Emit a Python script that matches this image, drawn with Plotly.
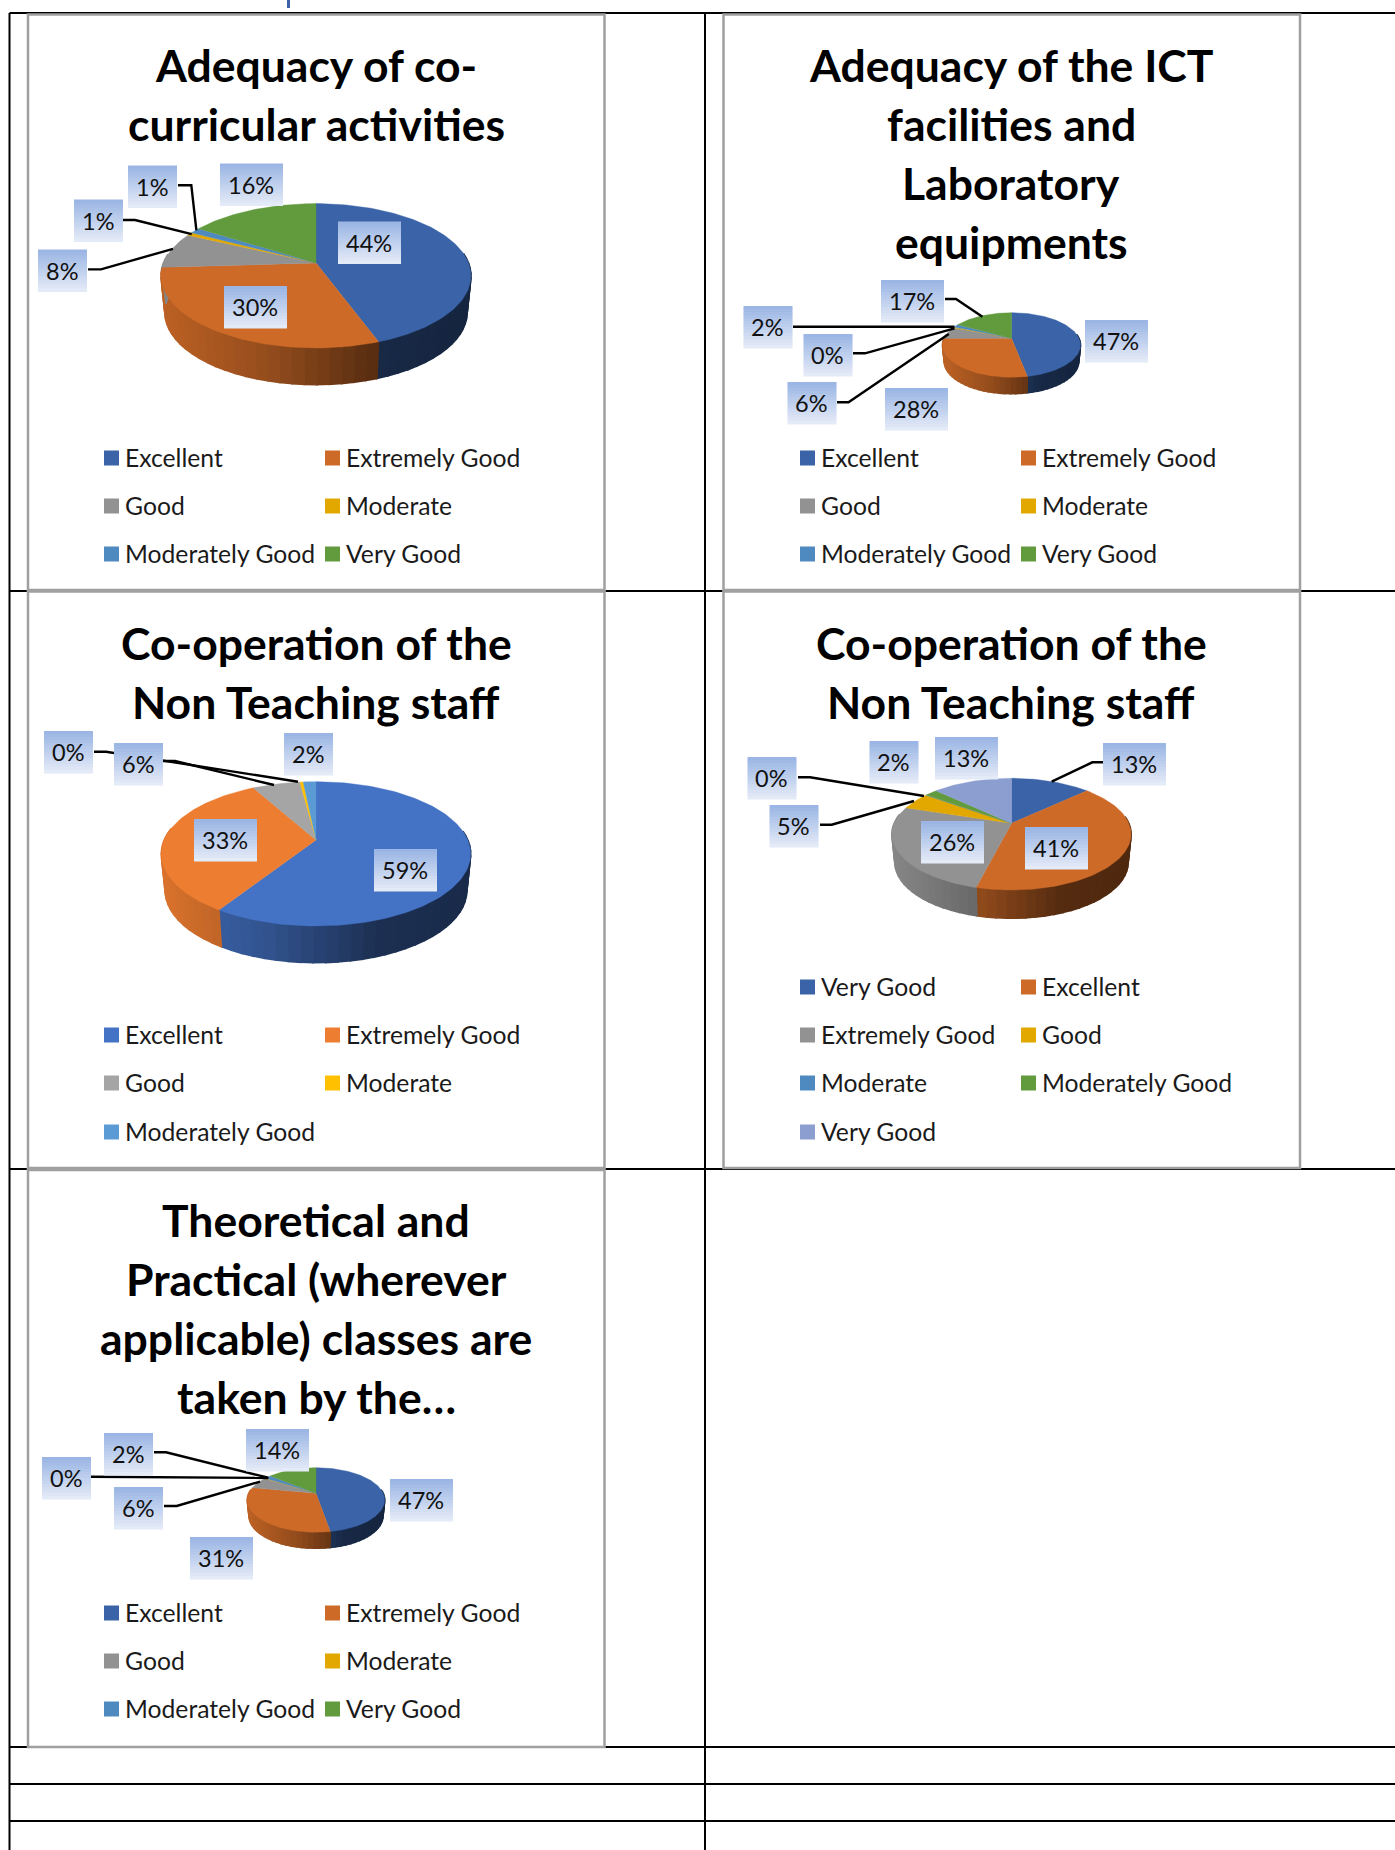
import numpy as np
import plotly.graph_objects as go

# ---------- data ----------
CATS_STD = ["Excellent", "Extremely Good", "Good", "Moderate", "Moderately Good", "Very Good"]
CATS_3 = ["Excellent", "Extremely Good", "Good", "Moderate", "Moderately Good"]
CATS_4 = ["Very Good", "Excellent", "Extremely Good", "Good", "Moderate", "Moderately Good", "Very Good"]

VALUES_1 = [44.45, 29.6, 8, 0.7, 1.3, 15.95]
VALUES_2 = [47, 28, 6, 0.4, 1.6, 17]
VALUES_3 = [59, 33, 6, 0.4, 1.6]
VALUES_4 = [13, 41, 26, 5, 0.1, 2, 13]
VALUES_5 = [47.3, 30.7, 6, 0.2, 1.8, 14]

TITLE_1 = ["Adequacy of co-", "curricular activities"]
TITLE_2 = ["Adequacy of the ICT", "facilities and", "Laboratory", "equipments"]
TITLE_3 = ["Co-operation of the", "Non Teaching staff"]
TITLE_4 = ["Co-operation of the", "Non Teaching staff"]
TITLE_5 = ["Theoretical and", "Practical (wherever", "applicable) classes are", "taken by the…"]

# ---------- styles ----------
PAL_A = ["#3a63a8", "#cd6a28", "#929292", "#e2a800", "#4e8ac0", "#629a3e"]
PAL_B = ["#4472c4", "#ed7d31", "#a5a5a5", "#ffc000", "#5b9bd5"]
PAL_C = ["#3a63a8", "#cd6a28", "#929292", "#e2a800", "#4e8ac0", "#629a3e", "#8c9dcf"]
FONT = "Lato"
TITLE_SIZE = 44.5
LEGEND_SIZE = 24.7
LABEL_SIZE = 23.5

# ---------- layout of each chart (pixels on the page) ----------
CHARTS = [
    dict(values=VALUES_1, cats=CATS_STD, pal=PAL_A, title=TITLE_1, tc=316, ty=[64, 123],
         box=(28, 14.5, 604.5, 590), cx=316, ay=263, top=203.6, bot=348, rx=155, depth=36.6,
         lx=(104, 325), ly=[457, 505, 553],
         labels=[(369.5, 242.5), (255.5, 307), (62.5, 270.5), (98.5, 220.5), (152.5, 186.5), (251.5, 184.5)],
         leaders=[[(88, 269.4), (101, 269.4), (173, 248.8)],
                  [(123, 220), (135, 220), (191.7, 234.2)],
                  [(178, 185.2), (191.3, 185.2), (196.4, 230.4)]]),
    dict(values=VALUES_2, cats=CATS_STD, pal=PAL_A, title=TITLE_2, tc=1011, ty=[64, 123, 182, 241],
         box=(723.5, 14.5, 1300, 590), cx=1011.5, ay=338.3, top=312.7, bot=377.3, rx=69, depth=16.4,
         lx=(800, 1021), ly=[457, 505, 553],
         labels=[(1116.5, 341), (916.5, 409), (812, 403), (828, 355), (768, 327), (912.5, 301)],
         leaders=[[(945, 299), (956, 299), (982.4, 316.7)],
                  [(793, 326.7), (954.5, 326.7)],
                  [(853, 353.3), (865, 353.3), (954.5, 328.3)],
                  [(837, 402.3), (848.5, 402.3), (948.8, 334)]]),
    dict(values=VALUES_3, cats=CATS_3, pal=PAL_B, title=TITLE_3, tc=316, ty=[642, 701],
         box=(28, 591.5, 604.5, 1168), cx=316, ay=840, top=781.7, bot=926, rx=154.7, depth=36.7,
         lx=(104, 325), ly=[1034, 1082, 1131],
         labels=[(405.5, 870), (225.5, 840), (138.5, 764), (68.5, 752), (308.5, 754)],
         leaders=[[(94, 751.7), (106, 751.7), (298, 781.7)],
                  [(163, 761), (175, 761), (274, 785)]]),
    dict(values=VALUES_4, cats=CATS_4, pal=PAL_C, title=TITLE_4, tc=1011, ty=[642, 701],
         box=(723.5, 591.5, 1300, 1168), cx=1011.5, ay=823.3, top=778.3, bot=890, rx=119.6, depth=28.3,
         lx=(800, 1021), ly=[986, 1034, 1082, 1131],
         labels=[(1134.5, 764), (1056.5, 848), (952.5, 842), (794, 826), (772, 778), (894, 762), (966.5, 758)],
         leaders=[[(1103, 762.3), (1092.3, 762.3), (1051.7, 781.7)],
                  [(798, 777.3), (810, 777.3), (924, 796)],
                  [(820, 824.7), (831.7, 824.7), (914, 801)]]),
    dict(values=VALUES_5, cats=CATS_STD, pal=PAL_A, title=TITLE_5, tc=316, ty=[1219, 1278, 1337, 1396],
         box=(28, 1170, 604.5, 1747), cx=316, ay=1493.3, top=1467.7, bot=1532.3, rx=68.7, depth=16,
         lx=(104, 325), ly=[1612, 1660, 1708],
         labels=[(421.5, 1500), (221.5, 1558), (138.5, 1508), (66.5, 1478), (128.5, 1454), (277.5, 1450)],
         leaders=[[(154, 1452.3), (166, 1452.3), (268.3, 1477.7)],
                  [(91, 1476.7), (268.3, 1478)],
                  [(164, 1506), (176.7, 1506), (260, 1481.7)]]),
]
H_RULES = [13, 591, 1169, 1747, 1784, 1821]
V_RULES = [9.5, 705]
SHADE_T = [0.0, 0.35, 0.7, 1.0]
SHADE_F = [0.92, 0.72, 0.42, 0.38]

fig = go.Figure()
shapes, annots = [], []


def shade(hexcol, f):
    r, g, b = int(hexcol[1:3], 16), int(hexcol[3:5], 16), int(hexcol[5:7], 16)
    return f"rgb({int(r*f)},{int(g*f)},{int(b*f)})"


def poly(xs, ys, color, lw=0.6):
    fig.add_trace(go.Scatter(x=xs, y=ys, mode="lines", fill="toself", fillcolor=color,
                             line=dict(color=color, width=lw), hoverinfo="skip", showlegend=False))


def draw_pie(c):
    vals = np.array(c["values"], float)
    fr = vals / vals.sum()
    edges = np.concatenate([[0], np.cumsum(fr)]) * 2 * np.pi
    a1, a2 = c["ay"] - c["top"], c["bot"] - c["ay"]
    k = (a2 - a1) / (a2 + a1)
    B = a1 * (1 + k)
    A = c["rx"] * np.sqrt(1 - k * k)

    def proj(th):
        u, v = np.sin(th), np.cos(th)
        w = 1 + k * v
        return c["cx"] + A * u / w, c["ay"] - B * v / w

    # side walls first, left-to-right overlap hides the seams between shade steps
    for i in range(len(vals)):
        n = max(2, int((edges[i + 1] - edges[i]) / np.radians(4)) + 1)
        ths = np.linspace(edges[i], edges[i + 1], n + 1)
        for t0, t1 in zip(ths[:-1], ths[1:]):
            if np.cos((t0 + t1) / 2) > 0.15:
                continue
            x0, y0 = proj(t0)
            x1, y1 = proj(t1)
            s = 0.975
            bx0, bx1 = c["cx"] + (x0 - c["cx"]) * s, c["cx"] + (x1 - c["cx"]) * s
            t = ((x0 + x1) / 2 - (c["cx"] - c["rx"])) / (2 * c["rx"])
            col = shade(c["pal"][i], float(np.interp(t, SHADE_T, SHADE_F)))
            poly([x0, x1, bx1, bx0, x0], [y0, y1, y1 + c["depth"], y0 + c["depth"], y0], col, lw=1.6)
    # top faces
    for i in range(len(vals)):
        n = max(2, int((edges[i + 1] - edges[i]) / np.radians(1.5)) + 1)
        xs, ys = proj(np.linspace(edges[i], edges[i + 1], n + 1))
        poly([c["cx"], *xs, c["cx"]], [c["ay"], *ys, c["ay"]], c["pal"][i], lw=0.4)


def draw_labels(c):
    for lead in c["leaders"]:
        xs, ys = zip(*lead)
        fig.add_trace(go.Scatter(x=xs, y=ys, mode="lines", line=dict(color="black", width=2.4),
                                 hoverinfo="skip", showlegend=False))
    tot = sum(c["values"])
    for v, (x, y) in zip(c["values"], c["labels"]):
        txt = f"{round(v * 100 / tot)}%"
        w = 63 if len(txt) == 3 else 49
        N = 14
        for j in range(N):
            f = j / (N - 1)
            col = tuple(int(a + (b - a) * f) for a, b in zip((155, 182, 228), (228, 235, 248)))
            shapes.append(dict(type="rect", xref="x", yref="y", layer="above", line=dict(width=0),
                               x0=x - w / 2, x1=x + w / 2, y0=y - 21 + 42 * j / N, y1=y - 21 + 42 * (j + 1) / N + 0.4,
                               fillcolor="rgb(%d,%d,%d)" % col))
        annots.append(dict(x=x - 1, y=y, xref="x", yref="y", text=txt, showarrow=False, xanchor="center",
                           yanchor="middle", font=dict(family=FONT, size=LABEL_SIZE, color="#111111")))


def draw_frame(c):
    x0, y0, x1, y1 = c["box"]
    shapes.append(dict(type="rect", xref="x", yref="y", layer="below", x0=x0, y0=y0, x1=x1, y1=y1,
                       fillcolor="white", line=dict(color="#a0a0a0", width=2.5)))
    for line, y in zip(c["title"], c["ty"]):
        annots.append(dict(x=c["tc"], y=y, xref="x", yref="y", text=f"<b>{line}</b>", showarrow=False,
                           xanchor="center", yanchor="middle", font=dict(family=FONT, size=TITLE_SIZE, color="black")))
    # legend, filled column by column across each row
    for i, cat in enumerate(c["cats"]):
        sx = c["lx"][i % 2]
        sy = c["ly"][i // 2]
        fig.add_trace(go.Scatter(x=[sx + 7.5], y=[sy + 1], mode="markers", hoverinfo="skip", showlegend=False,
                                 marker=dict(symbol="square", size=15, color=c["pal"][i], line=dict(width=0))))
        annots.append(dict(x=sx + 19, y=sy, xref="x", yref="y", text=cat, showarrow=False, xanchor="left",
                           yanchor="middle", font=dict(family=FONT, size=LEGEND_SIZE, color="#1a1a1a")))


for y in H_RULES:
    shapes.append(dict(type="line", xref="x", yref="y", layer="below", x0=V_RULES[0], x1=1395, y0=y, y1=y,
                       line=dict(color="black", width=2)))
for x in V_RULES:
    shapes.append(dict(type="line", xref="x", yref="y", layer="below", x0=x, x1=x, y0=H_RULES[0], y1=1850,
                       line=dict(color="black", width=2)))
shapes.append(dict(type="rect", xref="x", yref="y", layer="below", x0=287, x1=290, y0=0, y1=8,
                   fillcolor="#3a63a8", line=dict(width=0)))

for c in CHARTS:
    draw_frame(c)
    draw_pie(c)
for c in CHARTS:
    draw_labels(c)

fig.update_layout(
    width=1395, height=1850, margin=dict(l=0, r=0, t=0, b=0),
    paper_bgcolor="white", plot_bgcolor="white", showlegend=False,
    xaxis=dict(range=[0, 1395], visible=False, fixedrange=True),
    yaxis=dict(range=[1850, 0], visible=False, fixedrange=True),
    shapes=shapes, annotations=annots,
)
fig.write_html("out.html", post_script="document.body.style.margin='0';document.documentElement.style.overflow='hidden';",
               config={"displayModeBar": False})
